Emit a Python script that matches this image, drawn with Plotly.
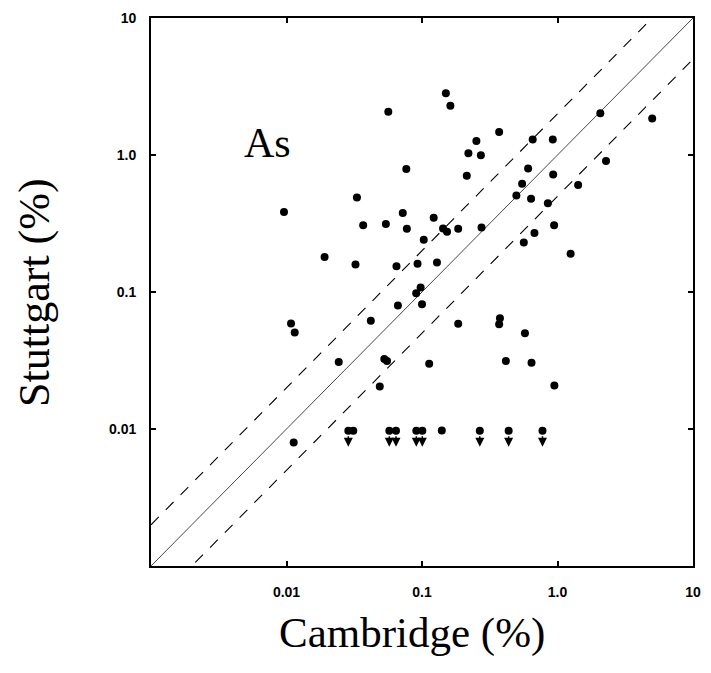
import numpy as np
import plotly.graph_objects as go

# Detected values (Cambridge %, Stuttgart %)
cambridge = [0.150, 0.162, 0.0564, 0.0766, 0.0331, 0.00958, 0.0721, 0.122, 0.0368, 0.0541,
             0.0773, 0.143, 0.153, 0.185, 0.103, 0.0191, 0.0323, 0.0648, 0.0927, 0.129,
             2.07, 5.0, 0.371, 0.252, 0.656, 0.923, 0.220, 0.272, 0.607, 2.28,
             0.214, 0.929, 0.548, 1.42, 0.497, 0.638, 0.849, 0.275, 0.944, 0.676,
             0.564, 1.25, 0.0977, 0.0906, 0.0664, 0.100, 0.0419, 0.0108, 0.0115, 0.185,
             0.0243, 0.0527, 0.0552, 0.113, 0.0488, 0.0113, 0.140, 0.376, 0.371, 0.575,
             0.416, 0.643, 0.948, 0.0311]
stuttgart = [2.82, 2.29, 2.07, 0.789, 0.490, 0.384, 0.377, 0.349, 0.307, 0.313,
             0.289, 0.291, 0.275, 0.290, 0.241, 0.180, 0.159, 0.154, 0.161, 0.164,
             2.02, 1.85, 1.475, 1.263, 1.30, 1.30, 1.03, 0.996, 0.798, 0.905,
             0.706, 0.721, 0.616, 0.605, 0.507, 0.479, 0.444, 0.296, 0.307, 0.269,
             0.230, 0.190, 0.108, 0.098, 0.0798, 0.0814, 0.0618, 0.0589, 0.0507, 0.0587,
             0.0308, 0.0324, 0.0314, 0.0299, 0.0204, 0.00797, 0.00975, 0.0644, 0.0582, 0.0500,
             0.0313, 0.0305, 0.0208, 0.0097]

# Upper limits (Stuttgart below detection limit)
limit_cambridge = [0.0286, 0.0574, 0.0643, 0.0908, 0.1005, 0.267, 0.436, 0.775]
limit_stuttgart = [0.0097] * len(limit_cambridge)

# Reference lines: 1:1 and factor-of-2 bands
axis_span = [0.001, 10]
band_factor = 2.0

tick_vals = [0.01, 0.1, 1, 10]
tick_text = ["0.01", "0.1", "1.0", "10"]

fig = go.Figure()

fig.add_trace(go.Scatter(x=axis_span, y=axis_span, mode="lines",
                         line=dict(color="#333333", width=0.9), hoverinfo="skip"))
fig.add_trace(go.Scatter(x=axis_span, y=[v * band_factor for v in axis_span], mode="lines",
                         line=dict(color="black", width=1.1, dash="11px,10px"), hoverinfo="skip"))
fig.add_trace(go.Scatter(x=axis_span, y=[v / band_factor for v in axis_span], mode="lines",
                         line=dict(color="black", width=1.1, dash="11px,10px"), hoverinfo="skip"))

fig.add_trace(go.Scatter(x=cambridge, y=stuttgart, mode="markers",
                         marker=dict(color="black", size=8), cliponaxis=False))
fig.add_trace(go.Scatter(x=limit_cambridge, y=limit_stuttgart, mode="markers",
                         marker=dict(color="black", size=8), cliponaxis=False))

for xv, yv in zip(limit_cambridge, limit_stuttgart):
    fig.add_annotation(x=np.log10(xv), y=np.log10(yv), xref="x", yref="y",
                       text="", showarrow=True, ax=0, ay=-12, yshift=-16,
                       arrowhead=2, arrowsize=1.2, arrowwidth=1.5, arrowcolor="black")

axis_common = dict(type="log", range=[-3, 1], showgrid=False, zeroline=False,
                   showline=True, linecolor="black", linewidth=1.8, mirror="ticks",
                   ticks="inside", ticklen=5, tickwidth=1.5, tickcolor="black",
                   tickvals=tick_vals, ticktext=tick_text,
                   tickfont=dict(family="Liberation Sans", size=14, color="black", weight="bold"))

fig.update_xaxes(**axis_common, ticklabelstandoff=12)
fig.update_yaxes(**axis_common, ticklabelstandoff=10)

fig.add_annotation(x=0.482, y=-0.122, xref="paper", yref="paper", text="Cambridge (%)",
                   showarrow=False, xanchor="center", yanchor="middle",
                   font=dict(family="Liberation Serif", size=43, color="black"))
fig.add_annotation(x=-0.216, y=0.50, xref="paper", yref="paper", text="Stuttgart (%)",
                   showarrow=False, xanchor="center", yanchor="middle", textangle=-90,
                   font=dict(family="Liberation Serif", size=44, color="black"))
fig.add_annotation(x=0.2155, y=0.771, xref="paper", yref="paper", text="As",
                   showarrow=False, xanchor="center", yanchor="middle",
                   font=dict(family="Liberation Serif", size=42, color="black"))

fig.update_layout(width=711, height=673, showlegend=False,
                  margin=dict(l=151, r=10, t=16, b=107),
                  paper_bgcolor="white", plot_bgcolor="white")

fig.write_html("out.html")
